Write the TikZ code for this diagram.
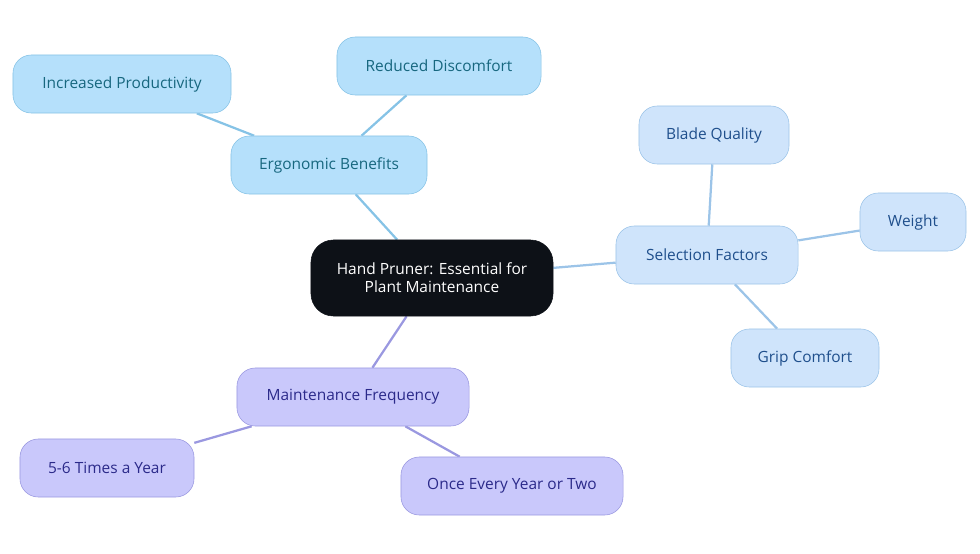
\documentclass[tikz,border=0pt]{standalone}
\usepackage{fontspec}
\setmainfont{Open Sans}
\usetikzlibrary{backgrounds}
\definecolor{rootfill}{HTML}{0D1117}
\definecolor{ergofill}{HTML}{B5E0FB}
\definecolor{ergoline}{HTML}{86C3E6}
\definecolor{ergotext}{HTML}{17677F}
\definecolor{selfill}{HTML}{CFE4FB}
\definecolor{selline}{HTML}{9CC4E8}
\definecolor{seltext}{HTML}{1F4F8C}
\definecolor{mainfill}{HTML}{C9C8FB}
\definecolor{mainline}{HTML}{9A98E0}
\definecolor{maintext}{HTML}{2B2A8A}
\begin{document}
\begin{tikzpicture}[x=0.025cm,y=-0.025cm,
  box/.style={draw,rounded corners=13pt,minimum height=1.45cm,align=center,font=\fontsize{11}{13}\selectfont},
  root/.style={box,fill=rootfill,draw=rootfill,text=white,minimum height=1.9cm,rounded corners=16pt},
  ergo/.style={box,fill=ergofill,draw=ergoline,text=ergotext},
  sel/.style={box,fill=selfill,draw=selline,text=seltext},
  maint/.style={box,fill=mainfill,draw=mainline,text=maintext},
  link/.style={line width=1.6pt}]
\useasboundingbox (0,0) rectangle (980,553);
\node[root,minimum width=6.05cm] (hand) at (432,278) {Hand Pruner: Essential for\\Plant Maintenance};
% ergonomic branch
\node[ergo,minimum width=4.9cm] (ergo) at (329,165) {Ergonomic Benefits};
\node[ergo,minimum width=5.45cm] (prod) at (122,84) {Increased Productivity};
\node[ergo,minimum width=5.1cm] (disc) at (439,66) {Reduced Discomfort};
% selection branch
\node[sel,minimum width=4.55cm] (sel) at (707,255) {Selection Factors};
\node[sel,minimum width=3.75cm] (blade) at (714,135) {Blade Quality};
\node[sel,minimum width=2.65cm] (weight) at (913,222) {Weight};
\node[sel,minimum width=3.7cm] (grip) at (805,358) {Grip Comfort};
% maintenance branch
\node[maint,minimum width=5.8cm] (maint) at (353,397) {Maintenance Frequency};
\node[maint,minimum width=4.35cm] (year) at (107,468) {5-6 Times a Year};
\node[maint,minimum width=5.55cm] (once) at (512,486) {Once Every Year or Two};
\begin{scope}[on background layer]
\draw[link,ergoline] (hand) -- (ergo);
\draw[link,ergoline] (ergo) -- (prod);
\draw[link,ergoline] (ergo) -- (disc);
\draw[link,selline] (hand) -- (sel);
\draw[link,selline] (sel) -- (blade);
\draw[link,selline] (sel) -- (weight);
\draw[link,selline] (sel) -- (grip);
\draw[link,mainline] (hand) -- (maint);
\draw[link,mainline] (maint) -- (year);
\draw[link,mainline] (maint) -- (once);
\end{scope}
\end{tikzpicture}
\end{document}
